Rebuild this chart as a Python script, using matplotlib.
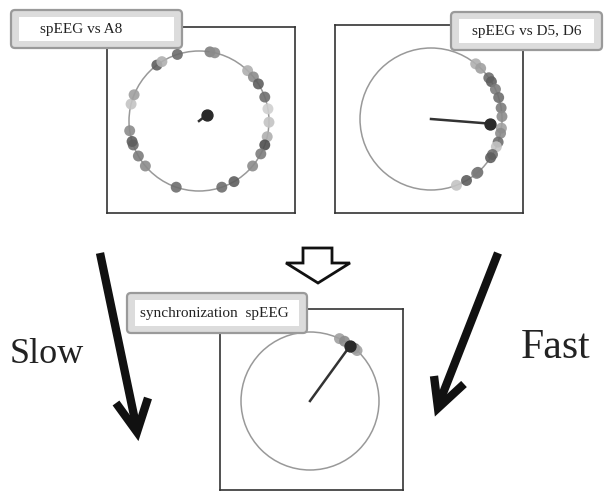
import numpy as np
import matplotlib
matplotlib.use("Agg")
import matplotlib.pyplot as plt
from matplotlib.patches import Circle, FancyBboxPatch, Rectangle, Polygon

plt.rcParams['font.family'] = ['Liberation Serif', 'DejaVu Serif']

# phase angles (deg) of each spike and its shade
a8_angles = [108, 81, 77, 127, 122, 46, 39, 32, 20, 10, -1, -13, -20, -28,
             -40, -60, -71, -109, -140, -150, -160, -163, -172, 166, 158]
a8_shades = ['#6a6a6a', '#808080', '#8c8c8c', '#5e5e5e', '#b0b0b0', '#b0b0b0',
             '#8c8c8c', '#5e5e5e', '#6e6e6e', '#d0d0d0', '#c4c4c4', '#b0b0b0',
             '#4e4e4e', '#7c7c7c', '#8c8c8c', '#5e5e5e', '#6e6e6e', '#6e6e6e',
             '#8c8c8c', '#7c7c7c', '#6e6e6e', '#5e5e5e', '#8c8c8c', '#c4c4c4',
             '#a0a0a0']
a8_mean = (38, 0.14)

d5_angles = [51, 45.6, 35.5, 31.7, 24.8, 17.6, 9, 2, -7.4, -11.6, -19, -23,
             -30, -33, -48.7, -50, -60, -69]
d5_shades = ['#b0b0b0', '#a0a0a0', '#6e6e6e', '#5e5e5e', '#7c7c7c', '#6e6e6e',
             '#7c7c7c', '#8c8c8c', '#a0a0a0', '#8c8c8c', '#6e6e6e', '#c4c4c4',
             '#6e6e6e', '#5e5e5e', '#6e6e6e', '#7c7c7c', '#5e5e5e', '#c4c4c4']
d5_mean = (-4.5, 0.84)

sync_angles = [64.7, 60, 49.7, 47]
sync_shades = ['#a0a0a0', '#8c8c8c', '#6e6e6e', '#a0a0a0']
sync_mean = (54, 0.98)

W, H = 607, 492
fig = plt.figure(figsize=(W / 100, H / 100), dpi=100)
fig.patch.set_facecolor('white')


def panel(box, center, radius, angles, shades, mean):
    x0, y0, x1, y1 = box
    ax = fig.add_axes([x0 / W, 1 - y1 / H, (x1 - x0) / W, (y1 - y0) / H])
    cx, cy = center
    ax.set_xlim((x0 - cx) / radius, (x1 - cx) / radius)
    ax.set_ylim((cy - y1) / radius, (cy - y0) / radius)
    ax.set_xticks([])
    ax.set_yticks([])
    for s in ax.spines.values():
        s.set_color('#333333')
        s.set_linewidth(1.2)
    ax.add_patch(Circle((0, 0), 1, fill=False, ec='#999999', lw=1.1))
    t = np.deg2rad(angles)
    ax.scatter(np.cos(t), np.sin(t), s=62, c=shades, alpha=0.9,
               edgecolors='none', zorder=3)
    ang, length = mean
    mx = length * np.cos(np.deg2rad(ang))
    my = length * np.sin(np.deg2rad(ang))
    ax.plot([0, mx], [0, my], color='#333333', lw=1.8, zorder=4)
    ax.scatter([mx], [my], s=62, c='#2a2a2a', zorder=5)
    return ax


panel((107, 27, 295, 213), (199, 121), 70, a8_angles, a8_shades, a8_mean)
panel((335, 25, 523, 213), (431, 119), 71, d5_angles, d5_shades, d5_mean)
panel((220, 309, 403, 490), (310, 401), 69, sync_angles, sync_shades, sync_mean)

# overlay in pixel units for labels and arrows
ov = fig.add_axes([0, 0, 1, 1], zorder=10)
ov.set_xlim(0, W)
ov.set_ylim(H, 0)
ov.axis('off')
ov.patch.set_alpha(0)


def label(x0, y0, x1, y1, text, tx):
    ov.add_patch(FancyBboxPatch((x0, y0), x1 - x0, y1 - y0,
                                boxstyle='round,pad=0,rounding_size=4',
                                fc='#dcdcdc', ec='#9a9a9a', lw=1.6))
    ov.add_patch(Rectangle((x0 + 8, y0 + 7), x1 - x0 - 16, y1 - y0 - 14,
                           fc='white', ec='none'))
    ov.text(tx, (y0 + y1) / 2 + 1, text, fontsize=11, color='#222222',
            va='center', ha='left')


label(11, 10, 182, 48, 'spEEG vs A8', 40)
label(451, 12, 602, 50, 'spEEG vs D5, D6', 472)
label(127, 293, 307, 333, 'synchronization  spEEG', 140)

# black arrows
arrow_kw = dict(color='#111111', lw=6, solid_capstyle='butt',
                solid_joinstyle='miter')
ov.plot([100, 137], [253, 430], **arrow_kw)
ov.plot([116, 137, 148], [403, 432, 398], **arrow_kw)
ov.plot([498, 438], [253, 406], **arrow_kw)
ov.plot([434, 438, 464], [376, 408, 384], **arrow_kw)

# hollow arrow
ov.add_patch(Polygon([(303, 248), (332, 248), (332, 263), (350, 263),
                      (318, 283), (286, 263), (303, 263)],
                     closed=True, fc='white', ec='#111111', lw=2))

ov.text(10, 363, 'Slow', fontsize=26, color='#222222', va='baseline')
ov.text(521, 358, 'Fast', fontsize=30, color='#222222', va='baseline')

fig.savefig('out.png', dpi=100)
